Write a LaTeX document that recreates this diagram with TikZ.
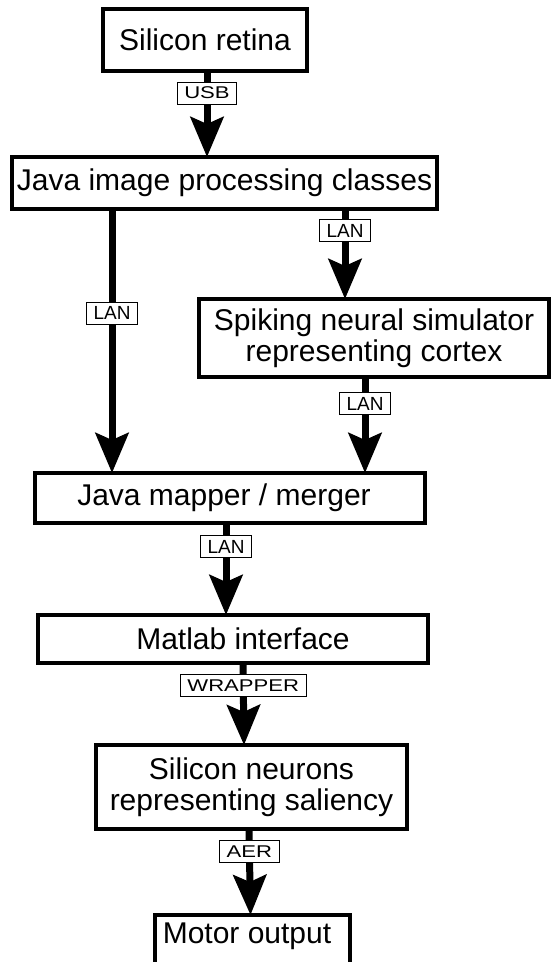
\documentclass[tikz,border=0pt]{standalone}
\usepackage{fontspec}
\setmainfont{Liberation Sans}
\newfontfamily\widefont[FakeStretch=1.3]{Liberation Sans}
\usetikzlibrary{arrows.meta}
\begin{document}
\begin{tikzpicture}[x=1pt,y=1pt,
  box/.style={draw, line width=4pt, fill=white, inner sep=0pt, outer sep=0pt,
    font=\fontsize{30}{31}\selectfont, align=center},
  boxtext/.style={inner sep=0pt, font=\fontsize{30}{31}\selectfont},
  lab/.style={draw, line width=1pt, fill=white, inner xsep=7pt, inner ysep=0pt,
    minimum height=22pt, font=\fontsize{19}{20}\selectfont},
  wlab/.style={lab, font=\widefont\fontsize{17}{18}\selectfont},
  arr/.style={line width=7pt, -{Stealth[length=40pt,width=33pt,inset=7pt]}}]
\useasboundingbox (0,0) rectangle (552,-962);
\clip (0,0) rectangle (552,-962);

\node[box, minimum width=204, minimum height=62] (retina) at (205,-40) {Silicon retina};
\node[box, minimum width=425, minimum height=52] (java) at (224.5,-183) {Java image processing classes};
\node[box, minimum width=350, minimum height=78] (spike) at (374,-338) {Spiking neural simulator\\representing cortex};
\node[box, minimum width=390, minimum height=50] (mapper) at (230,-498) {Java mapper / merger\hspace*{12pt}};
\node[box, minimum width=390, minimum height=48] (matlab) at (233,-639) {\hspace*{20pt}Matlab interface};
\node[box, minimum width=311, minimum height=84] (neuron) at (251.5,-787) {Silicon neurons\\representing saliency};
\node[box, minimum width=195, minimum height=70] (motor) at (252.5,-950) {};
\node[boxtext, anchor=base] (motortext) at (247,-943) {Motor output};

\draw[arr] ([xshift=2pt]retina.south) -- ([xshift=-17.5pt]java.north)
  node[wlab, pos=0.256] (usb) {USB};
\draw[arr] ([xshift=-112.5pt]java.south) -- ([xshift=-118pt]mapper.north)
  node[lab, pos=0.394] (lan1) {LAN};
\draw[arr] ([xshift=120.5pt]java.south) -- ([xshift=-29pt]spike.north)
  node[lab, pos=0.239] (lan2) {LAN};
\draw[arr] ([xshift=-9pt]spike.south) -- ([xshift=135pt]mapper.north)
  node[lab, pos=0.281] (lan3) {LAN};
\draw[arr] ([xshift=-4pt]mapper.south) -- ([xshift=-7pt]matlab.north)
  node[lab, pos=0.255] (lan4) {LAN};
\draw[arr] ([xshift=10pt]matlab.south) -- ([xshift=-7.5pt]neuron.north)
  node[wlab, pos=0.28] (wrap) {WRAPPER};
\draw[arr] ([xshift=-2.5pt]neuron.south) -- ([xshift=-2pt]motor.north)
  node[wlab, pos=0.267] (aer) {AER};
\end{tikzpicture}
\end{document}
